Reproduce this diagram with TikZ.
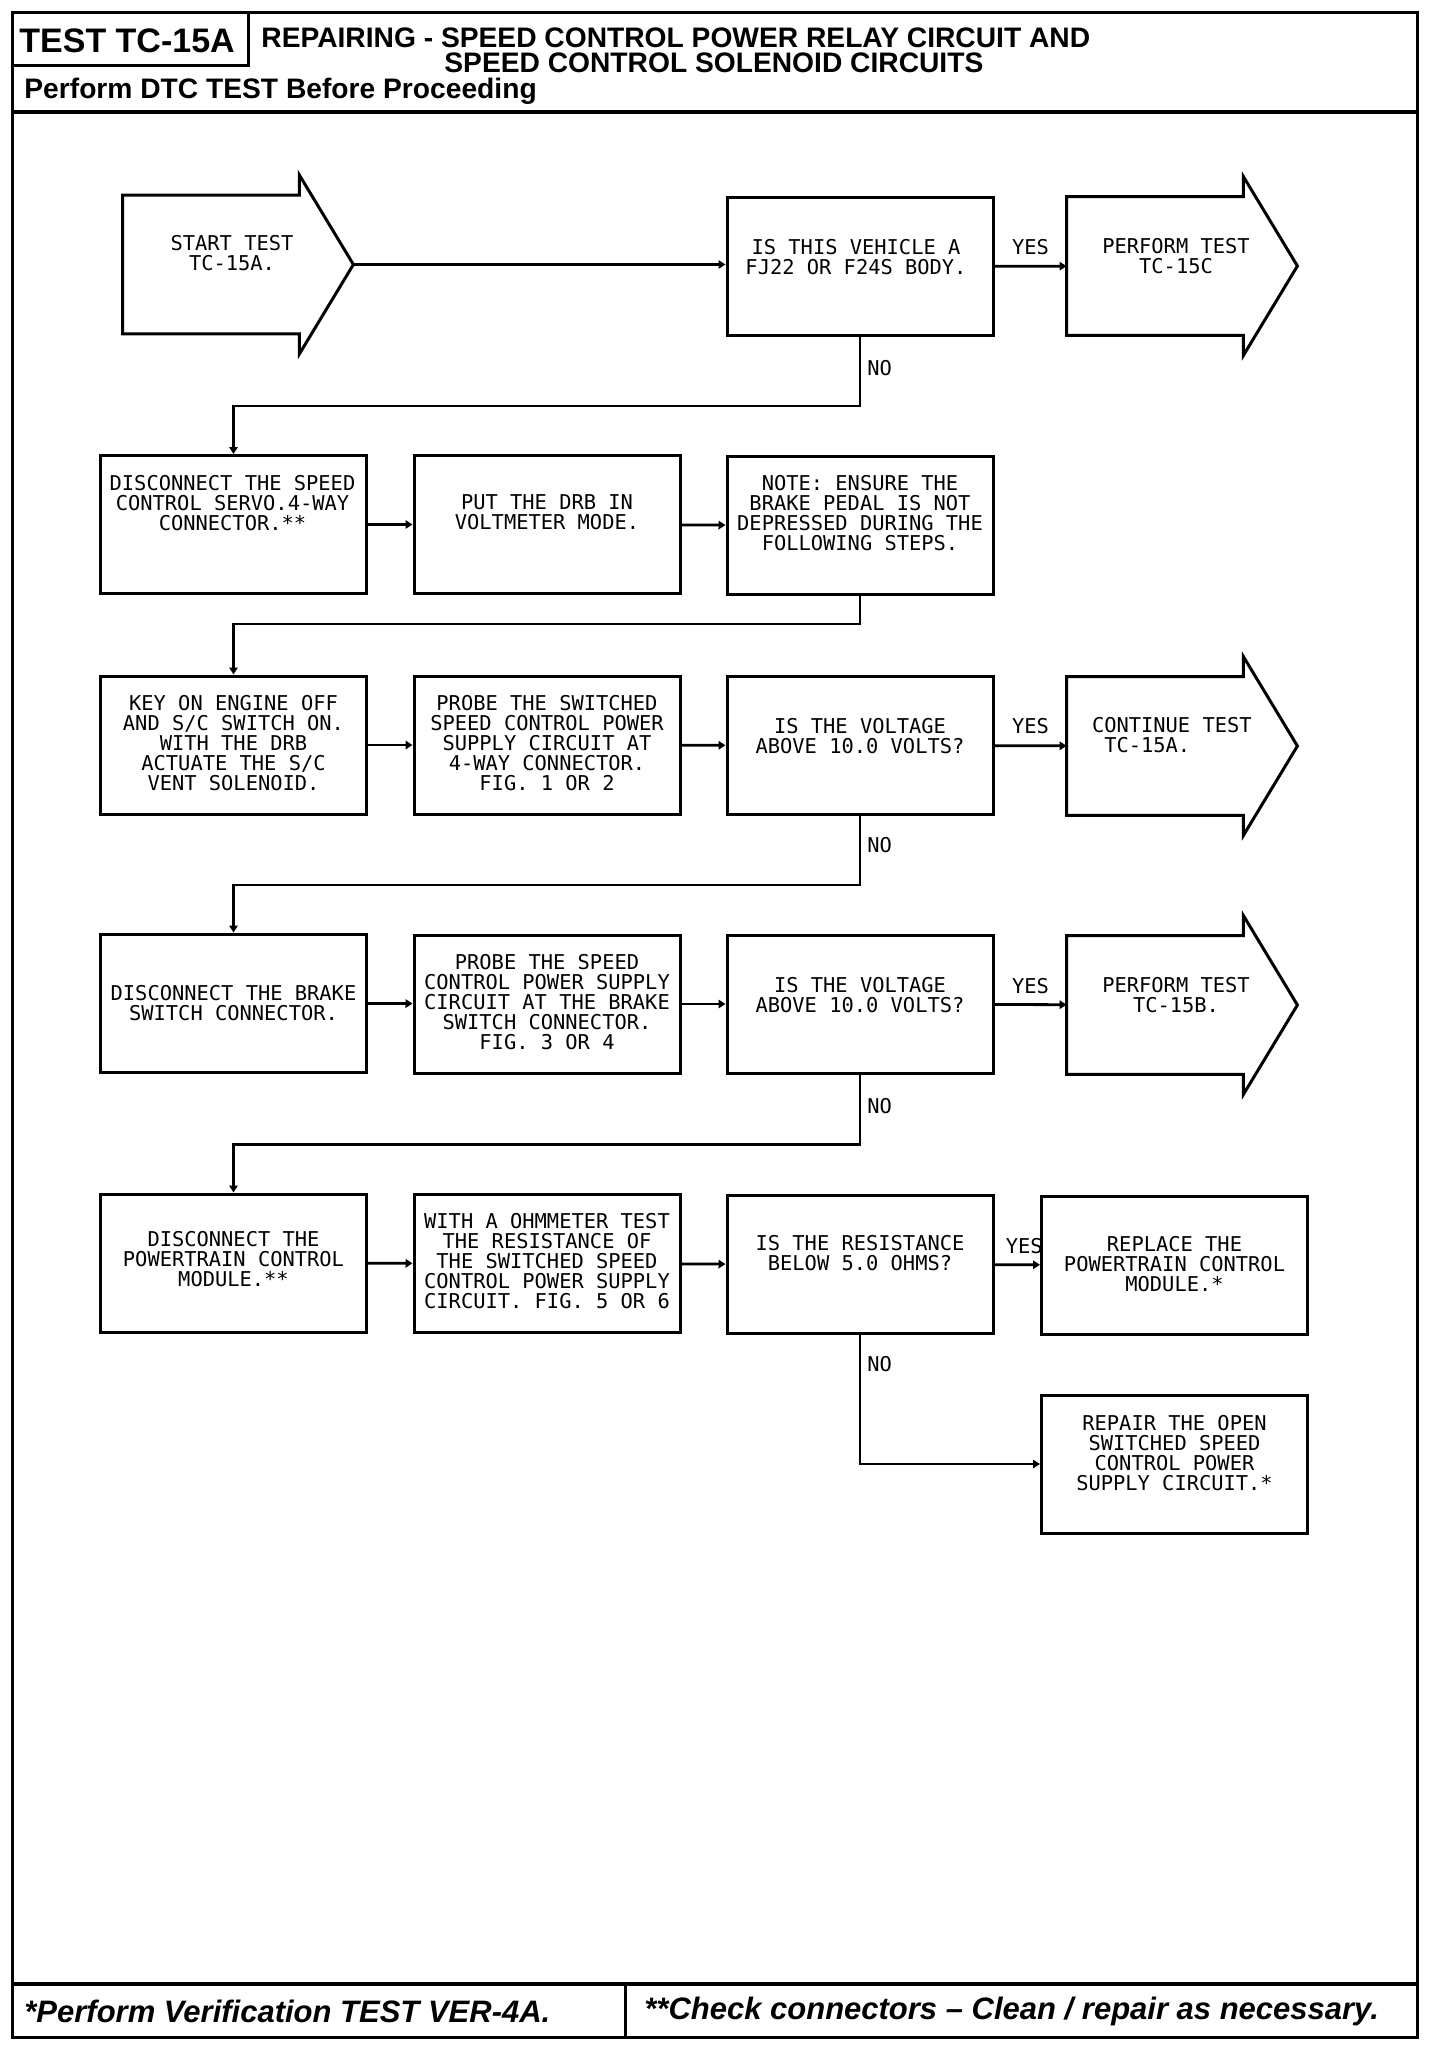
\documentclass[tikz,border=0pt]{standalone}
\usepackage{fontspec}
\setmainfont{Liberation Sans}
\newfontfamily\plotfont{DejaVu Sans Mono}
\newfontfamily\hfont{Liberation Sans}
\usetikzlibrary{calc,arrows.meta}
\newcommand\arrowoutline[1]{%
  \draw[aline] (#1.north east) -- ++(0,-20) -- ($(#1.east)+(54,0)$) -- ($(#1.south east)+(0,20)$)
    -- (#1.south east) -- (#1.south west) -- (#1.north west) -- cycle;}
\begin{document}
\begin{tikzpicture}[x=0.5pt,y=-0.5pt,
  every node/.style={inner sep=0pt},
  frame/.style={line width=1.5pt},
  hline/.style={line width=2pt},
  box/.style={draw, line width=1.5pt, rectangle, minimum width=133pt, minimum height=69pt},
  abody/.style={rectangle, minimum width=88pt, minimum height=69pt},
  aline/.style={line width=1.5pt, line join=miter},
  txt/.style={font=\plotfont\fontsize{10.2pt}{10pt}\selectfont, align=center},
  lab/.style={font=\plotfont\fontsize{10.2pt}{10pt}\selectfont},
  conn/.style={line width=1.4pt, -{Triangle[length=3.5pt,width=4.2pt]}},
  headbig/.style={font=\hfont\bfseries\fontsize{17pt}{19pt}\selectfont, anchor=west},
  head/.style={font=\hfont\bfseries\fontsize{14.1pt}{16pt}\selectfont, anchor=west},
  foot/.style={font=\hfont\bfseries\itshape\fontsize{15.5pt}{17pt}\selectfont, anchor=west}
]
\useasboundingbox (0,0) rectangle (1440,2050);

% ---------- frame, header, footer ----------
\draw[frame] (12,13) rectangle (1417,2037);
\draw[frame] (12,66) -- (248,66) -- (248,13);
\draw[hline] (12,112) -- (1417,112);
\draw[hline] (12,1984) -- (1417,1984);
\draw[frame] (625,1984) -- (625,2037);

\node[headbig] (ttl) at (19,41) {TEST TC-15A};
\node[head] (ti1) at (261,38) {REPAIRING - SPEED CONTROL POWER RELAY CIRCUIT AND};
\node[head] (ti2) at (444,63) {SPEED CONTROL SOLENOID CIRCUITS};
\node[head] (ti3) at (24,91) {Perform DTC TEST Before Proceeding};
\node[foot] (ft1) at (24,2011) {*Perform Verification TEST VER-4A.};
\node[foot] (ft2) at (644,2011) {**Check connectors – Clean / repair as necessary.};

% ---------- row 1 ----------
\node[abody] (start) at (211,264.5) {};
\arrowoutline{start}
\coordinate (starttip) at ($(start.east)+(54,0)$);
\node[txt] (startt) at ($(start)+(21,-11.5)$) {START TEST\\TC-15A.};

\node[box] (q1) at (860,266.5) {};
\node[txt] (q1t) at ($(q1)+(-4,-9.5)$) {IS THIS VEHICLE A\\FJ22 OR F24S BODY.};

\node[abody] (tc15c) at (1155,266) {};
\arrowoutline{tc15c}
\node[txt] (tc15ct) at ($(tc15c)+(21,-9.5)$) {PERFORM TEST\\TC-15C};

% ---------- row 2 ----------
\node[box] (b1) at (233.5,524.5) {};
\node[txt] (b1t) at ($(b1)+(-1,-21)$) {DISCONNECT THE SPEED\\CONTROL SERVO.4-WAY\\CONNECTOR.**};
\node[box] (b2) at (547,524.5) {};
\node[txt] (b2t) at ($(b2)+(0,-12)$) {PUT THE DRB IN\\VOLTMETER MODE.};
\node[box] (b3) at (860,525.5) {};
\node[txt] (b3t) at ($(b3)+(0,-12)$) {NOTE: ENSURE THE\\BRAKE PEDAL IS NOT\\DEPRESSED DURING THE\\FOLLOWING STEPS.};

% ---------- row 3 ----------
\node[box] (c1) at (233.5,745) {};
\node[txt] (c1t) at ($(c1)+(0,-2)$) {KEY ON ENGINE OFF\\AND S/C SWITCH ON.\\WITH THE DRB\\ACTUATE THE S/C\\VENT SOLENOID.};
\node[box] (c2) at (547,745) {};
\node[txt] (c2t) at ($(c2)+(0,-2)$) {PROBE THE SWITCHED\\SPEED CONTROL POWER\\SUPPLY CIRCUIT AT\\4-WAY CONNECTOR.\\FIG. 1 OR 2};
\node[box] (c3) at (860,745.5) {};
\node[txt] (c3t) at ($(c3)+(0,-9)$) {IS THE VOLTAGE\\ABOVE 10.0 VOLTS?};

\node[abody] (cont) at (1155,746) {};
\arrowoutline{cont}
\node[txt, align=left, anchor=west] (contt) at ($(cont.west)+(25,-11)$) {CONTINUE TEST\\\hphantom{C}TC-15A.};

% ---------- row 4 ----------
\node[box] (d1) at (233.5,1003) {};
\node[txt] (d1t) at ($(d1)+(0,0)$) {DISCONNECT THE BRAKE\\SWITCH CONNECTOR.};
\node[box] (d2) at (547,1004) {};
\node[txt] (d2t) at ($(d2)+(0,-2)$) {PROBE THE SPEED\\CONTROL POWER SUPPLY\\CIRCUIT AT THE BRAKE\\SWITCH CONNECTOR.\\FIG. 3 OR 4};
\node[box] (d3) at (860,1004) {};
\node[txt] (d3t) at ($(d3)+(0,-9)$) {IS THE VOLTAGE\\ABOVE 10.0 VOLTS?};

\node[abody] (tc15b) at (1155,1005) {};
\arrowoutline{tc15b}
\node[txt] (tc15bt) at ($(tc15b)+(21,-10)$) {PERFORM TEST\\TC-15B.};

% ---------- row 5 ----------
\node[box] (e1) at (233.5,1263) {};
\node[txt] (e1t) at ($(e1)+(0,-4)$) {DISCONNECT THE\\POWERTRAIN CONTROL\\MODULE.**};
\node[box] (e2) at (547,1263.5) {};
\node[txt] (e2t) at ($(e2)+(0,-2)$) {WITH A OHMMETER TEST\\THE RESISTANCE OF\\THE SWITCHED SPEED\\CONTROL POWER SUPPLY\\CIRCUIT. FIG. 5 OR 6};
\node[box] (e3) at (860,1264.5) {};
\node[txt] (e3t) at ($(e3)+(0,-11)$) {IS THE RESISTANCE\\BELOW 5.0 OHMS?};
\node[box] (e4) at (1174.5,1265) {};
\node[txt] (e4t) at ($(e4)+(0,-1)$) {REPLACE THE\\POWERTRAIN CONTROL\\MODULE.*};
\node[box] (e5) at (1174.5,1464) {};
\node[txt] (e5t) at ($(e5)+(0,-11)$) {REPAIR THE OPEN\\SWITCHED SPEED\\CONTROL POWER\\SUPPLY CIRCUIT.*};

% ---------- connectors ----------
\draw[conn] (starttip) -- (starttip -| q1.west);
\draw[conn] (q1) -- node[lab, yshift=9.5pt] (yes1) {YES} (tc15c);
\draw[conn] (q1.south) -- ++(0,69) -| (b1.north);
\node[lab, anchor=west] (no1) at ($(q1.south)+(7,31)$) {NO};

\draw[conn] (b1) -- (b2);
\draw[conn] (b2) -- (b3);
\draw[conn] (b3.south) -- ++(0,28) -| (c1.north);

\draw[conn] (c1) -- (c2);
\draw[conn] (c2) -- (c3);
\draw[conn] (c3) -- node[lab, yshift=10pt] (yes2) {YES} (cont);
\draw[conn] (c3.south) -- ++(0,69) -| (d1.north);
\node[lab, anchor=west] (no2) at ($(c3.south)+(7,29)$) {NO};

\draw[conn] (d1) -- (d2);
\draw[conn] (d2) -- (d3);
\draw[conn] (d3) -- node[lab, yshift=9.5pt] (yes3) {YES} (tc15b);
\draw[conn] (d3.south) -- ++(0,70) -| (e1.north);
\node[lab, anchor=west] (no3) at ($(d3.south)+(7,32)$) {NO};

\draw[conn] (e1) -- (e2);
\draw[conn] (e2) -- (e3);
\draw[conn] (e3) -- node[lab, yshift=9.5pt, xshift=3.5pt] (yes4) {YES} (e4);
\draw[conn] (e3.south) |- (e5.west);
\node[lab, anchor=west] (no4) at ($(e3.south)+(7,29)$) {NO};
\end{tikzpicture}
\end{document}
